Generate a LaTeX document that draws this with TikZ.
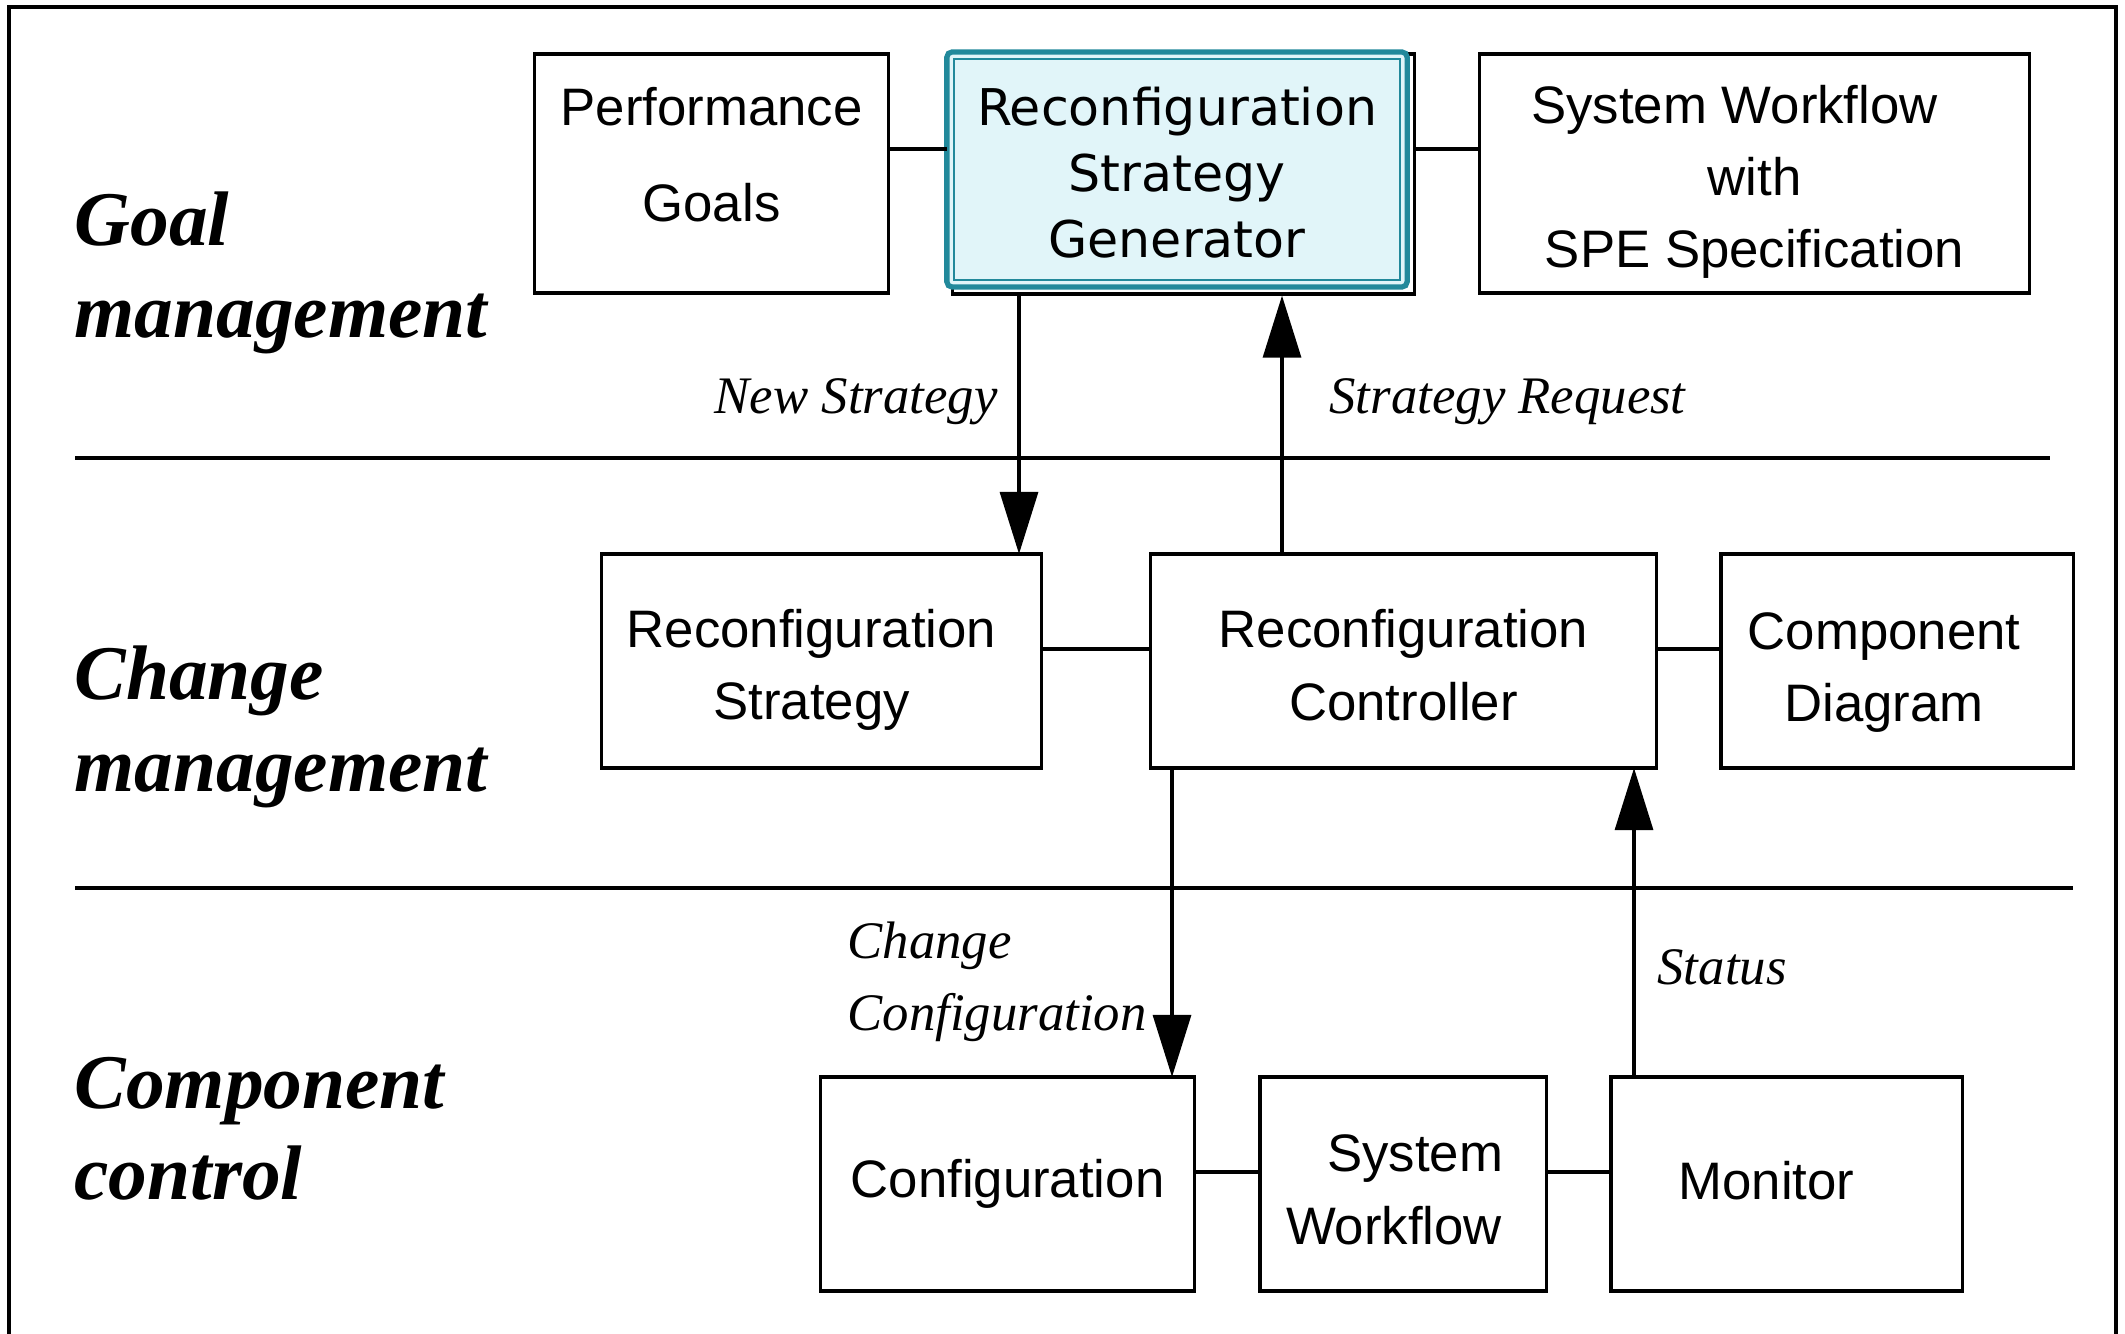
\documentclass[tikz,border=0pt]{standalone}
\usepackage{fontspec}
\setmainfont{Liberation Serif}
\setsansfont{Liberation Sans}
\newfontfamily\genfont{DejaVu Sans}
\usepackage{xcolor}
\usepackage{tikz}
\usetikzlibrary{arrows.meta, positioning}
\definecolor{rsgteal}{HTML}{22899B}
\definecolor{rsgfill}{HTML}{E1F5F9}
% struts to nudge text inside a box
\newcommand{\pushup}[1]{\rule[-#1]{0pt}{#1}}
\newcommand{\pushdown}[1]{\rule{0pt}{#1}}

\begin{document}
\begin{tikzpicture}[x=0.01cm, y=-0.01cm, line width=0.9pt,
    >={Triangle[length=0.62cm, width=0.38cm]},
    box/.style={draw, inner sep=0pt, outer sep=0pt, align=center,
        font=\sffamily\fontsize{15}{20.5}\selectfont},
    flow/.style={font=\itshape\fontsize{15}{20.5}\selectfont, inner sep=0pt},
    layer/.style={font=\bfseries\itshape\fontsize{22}{26}\selectfont,
        inner sep=0pt, align=left, anchor=west}]
                \useasboundingbox (0,0) rectangle (2125,1334);
                % 1. Khung ngoai
                \draw (9,1340) -- (9,7) -- (2116,7) -- (2116,1340);
                
                % 2. Cac tang
                \node[layer] (goal) at (73,273) {Goal\\management};
                \node[layer] (change) at (73,727) {Change\\management};
                \node[layer] (comp) at (73,1129) {Component\\control};
                \draw (75,458) -- (2050,458);
                \draw (75,888) -- (2073,888);
                
                % 3. Cac hop
                \node[box, minimum width=3.53cm, minimum height=2.39cm] (pg) at (711.5,173.5) {Performance\\[0.24cm]Goals\pushup{0.38cm}};
                \node[draw, inner sep=0pt, minimum width=4.61cm, minimum height=2.40cm] (rsgback) at (1183.5,174) {};
                \node[box, draw=rsgteal, line width=1.5pt, fill=rsgfill, rounded corners=1.5pt,
                    minimum width=4.60cm, minimum height=2.35cm,
                    font=\genfont\fontsize{14.4}{18.8}\selectfont] (rsg) at (1177,169.5) {\pushdown{0.45cm}Reconfiguration\\Strategy\\Generator};
                \draw[rsgteal, line width=0.4pt] ([shift={(7,7)}]rsg.north west) rectangle ([shift={(-7,-7)}]rsg.south east);
                \node[box, minimum width=5.49cm, minimum height=2.39cm] (sw) at (1754.5,173.5) {\pushdown{0.545cm}System Workflow\hspace*{0.4cm}\\with\\SPE Specification};
                
                \node[box, minimum width=4.39cm, minimum height=2.14cm] (rs) at (821.5,661) {\pushdown{0.565cm}Reconfiguration\hspace*{0.2cm}\\Strategy\hspace*{0.2cm}};
                \node[box, minimum width=5.05cm, minimum height=2.14cm] (rc) at (1403.5,661) {\pushdown{0.465cm}Reconfiguration\\Controller};
                \node[box, minimum width=3.52cm, minimum height=2.14cm] (cd) at (1897,661) {\pushdown{0.605cm}Component\hspace*{0.26cm}\\Diagram\hspace*{0.26cm}};
                
                \node[box, minimum width=3.73cm, minimum height=2.14cm] (cfg) at (1007.5,1184) {Configuration};
                \node[box, minimum width=2.86cm, minimum height=2.14cm] (swf) at (1403,1184) {\pushdown{0.485cm}\hspace*{0.24cm}System\\Workflow\hspace*{0.18cm}};
                \node[box, minimum width=3.51cm, minimum height=2.14cm] (mon) at (1786.5,1184) {Monitor\hspace*{0.4cm}\pushup{0.08cm}};
                
                % 4. Duong noi
                \coordinate (top) at (0,149);
                \coordinate (mid) at (0,649);
                \coordinate (bot) at (0,1172);
                \draw (pg.east |- top) -- (rsg.west |- top);
                \draw (rsgback.east |- top) -- (sw.west |- top);
                \draw (rs.east |- mid) -- (rc.west |- mid);
                \draw (rc.east |- mid) -- (cd.west |- mid);
                \draw (cfg.east |- bot) -- (swf.west |- bot);
                \draw (swf.east |- bot) -- (mon.west |- bot);
                
                % 5. Mui ten va nhan
                \coordinate (ns) at (1019,0);
                \coordinate (sr) at (1282,0);
                \coordinate (cc) at (1172,0);
                \coordinate (st) at (1634,0);
                \draw[->] (rsgback.south -| ns) -- (rs.north -| ns);
                \draw[->] (rc.north -| sr) -- (rsgback.south -| sr);
                \draw[->] (rc.south -| cc) -- (cfg.north -| cc);
                \draw[->] (mon.north -| st) -- (rc.south -| st);
                \node[flow, anchor=east] (nslabel) at (999,402) {New Strategy};
                \node[flow, anchor=west] (srlabel) at (1328,402) {Strategy Request};
                \node[flow, anchor=west, align=left] (cclabel) at (846,982) {Change\\Configuration};
                \node[flow, anchor=west] (stlabel) at (1656,967) {Status};
            \end{tikzpicture}
\end{document}
